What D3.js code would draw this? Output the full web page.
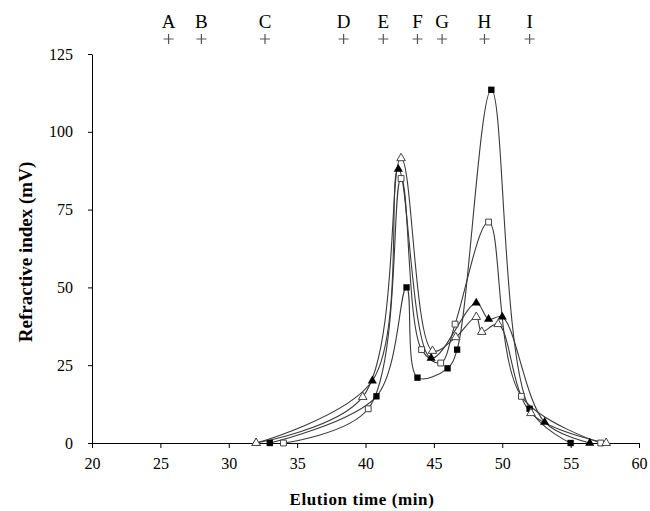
<!DOCTYPE html>
<html>
<head>
<meta charset="utf-8">
<script src="https://cdn.jsdelivr.net/npm/d3@7"></script>
<style>
  body { margin: 0; background: #fff; }
  svg { display: block; }
  text { font-family: "Liberation Serif", "Times New Roman", serif; }
</style>
</head>
<body>
<svg width="650" height="511"></svg>
<script>
// standards shown above the plot
var stdLabels = ['A', 'B', 'C', 'D', 'E', 'F', 'G', 'H', 'I'];
var stdTimes = [25.6, 28.0, 32.65, 38.4, 41.3, 43.8, 45.6, 48.7, 52.0];

// filled squares
var sqFilledTime = [33, 40.8, 43.0, 43.8, 46.0, 46.7, 49.2, 52.0, 55.0];
var sqFilledRI = [0, 15, 50, 21, 24, 30, 113.5, 11, 0];

// open squares
var sqOpenTime = [34, 40.2, 42.6, 44.1, 45.5, 46.55, 49.0, 51.4, 57.2];
var sqOpenRI = [0, 11, 85, 30, 25.7, 38.2, 71, 15, 0];

// filled triangles
var triFilledTime = [32, 40.5, 42.4, 44.8, 48.1, 49.0, 50.0, 53.1, 56.4];
var triFilledRI = [0, 20, 88, 27.3, 45, 39.8, 40.5, 6.7, 0];

// open triangles
var triOpenTime = [32, 39.8, 42.6, 44.9, 46.6, 48.1, 48.5, 49.7, 52.1, 57.6];
var triOpenRI = [0, 14.8, 91.5, 29.6, 34, 40.5, 35.7, 38.2, 9.6, 0];

var xTicks = [20, 25, 30, 35, 40, 45, 50, 55, 60];
var yTicks = [0, 25, 50, 75, 100, 125];

var series = [
  { time: sqFilledTime, ri: sqFilledRI, shape: d3.symbolSquare, fill: '#000', size: 40 },
  { time: sqOpenTime, ri: sqOpenRI, shape: d3.symbolSquare, fill: '#fff', size: 34 },
  { time: triFilledTime, ri: triFilledRI, shape: d3.symbolTriangle, fill: '#000', size: 36 },
  { time: triOpenTime, ri: triOpenRI, shape: d3.symbolTriangle, fill: '#fff', size: 32 }
];

var svg = d3.select('svg');

var x = d3.scaleLinear().domain([20, 60]).range([92, 639]);
var y = d3.scaleLinear().domain([0, 125]).range([443, 54]);

// axes
var xAxis = svg.append('g')
  .attr('transform', 'translate(0,' + y(0) + ')')
  .call(d3.axisBottom(x).tickValues(xTicks).tickSize(5).tickSizeOuter(0).tickPadding(10));
var yAxis = svg.append('g')
  .attr('transform', 'translate(' + x(20) + ',0)')
  .call(d3.axisLeft(y).tickValues(yTicks).tickSize(4).tickSizeOuter(0).tickPadding(15));

[xAxis, yAxis].forEach(function(a) {
  a.selectAll('path, line').attr('stroke', '#000').attr('stroke-width', 1);
  a.selectAll('text')
    .attr('font-family', '"Liberation Serif", serif')
    .attr('font-size', 16)
    .attr('fill', '#000');
});

// smoothed curves, centripetal so they don't dip under zero
var line = d3.line()
  .x(function(d) { return x(d[0]); })
  .y(function(d) { return y(d[1]); })
  .curve(d3.curveCatmullRom.alpha(0.5));

series.forEach(function(s) {
  var pts = s.time.map(function(t, i) { return [t, s.ri[i]]; });
  svg.append('path')
    .attr('d', line(pts))
    .attr('fill', 'none')
    .attr('stroke', '#3a3a3a')
    .attr('stroke-width', 1.1);
});

series.forEach(function(s) {
  var pts = s.time.map(function(t, i) { return [t, s.ri[i]]; });
  svg.append('g').selectAll('path')
    .data(pts)
    .join('path')
    .attr('d', d3.symbol().type(s.shape).size(s.size))
    .attr('transform', function(d) { return 'translate(' + x(d[0]) + ',' + y(d[1]) + ')'; })
    .attr('fill', s.fill)
    .attr('stroke', s.fill == '#000' ? 'none' : '#444')
    .attr('stroke-width', 1);
});

// standards markers on top
var std = svg.append('g');
stdTimes.forEach(function(t, i) {
  std.append('text')
    .attr('x', x(t))
    .attr('y', 28)
    .attr('text-anchor', 'middle')
    .attr('font-size', 19)
    .attr('fill', '#000')
    .text(stdLabels[i]);
  std.append('path')
    .attr('d', 'M' + (x(t) - 5) + ',39H' + (x(t) + 5) + 'M' + x(t) + ',34V44')
    .attr('stroke', '#555')
    .attr('stroke-width', 1.2);
});

// axis titles
svg.append('text')
  .attr('x', 362)
  .attr('y', 505)
  .attr('text-anchor', 'middle')
  .attr('font-size', 17)
  .attr('font-weight', 'bold')
  .attr('letter-spacing', 0.6)
  .text('Elution time (min)');

svg.append('text')
  .attr('transform', 'translate(32,' + 252 + ') rotate(-90)')
  .attr('text-anchor', 'middle')
  .attr('font-size', 19)
  .attr('font-weight', 'bold')
  .text('Refractive index (mV)');
</script>
</body>
</html>
